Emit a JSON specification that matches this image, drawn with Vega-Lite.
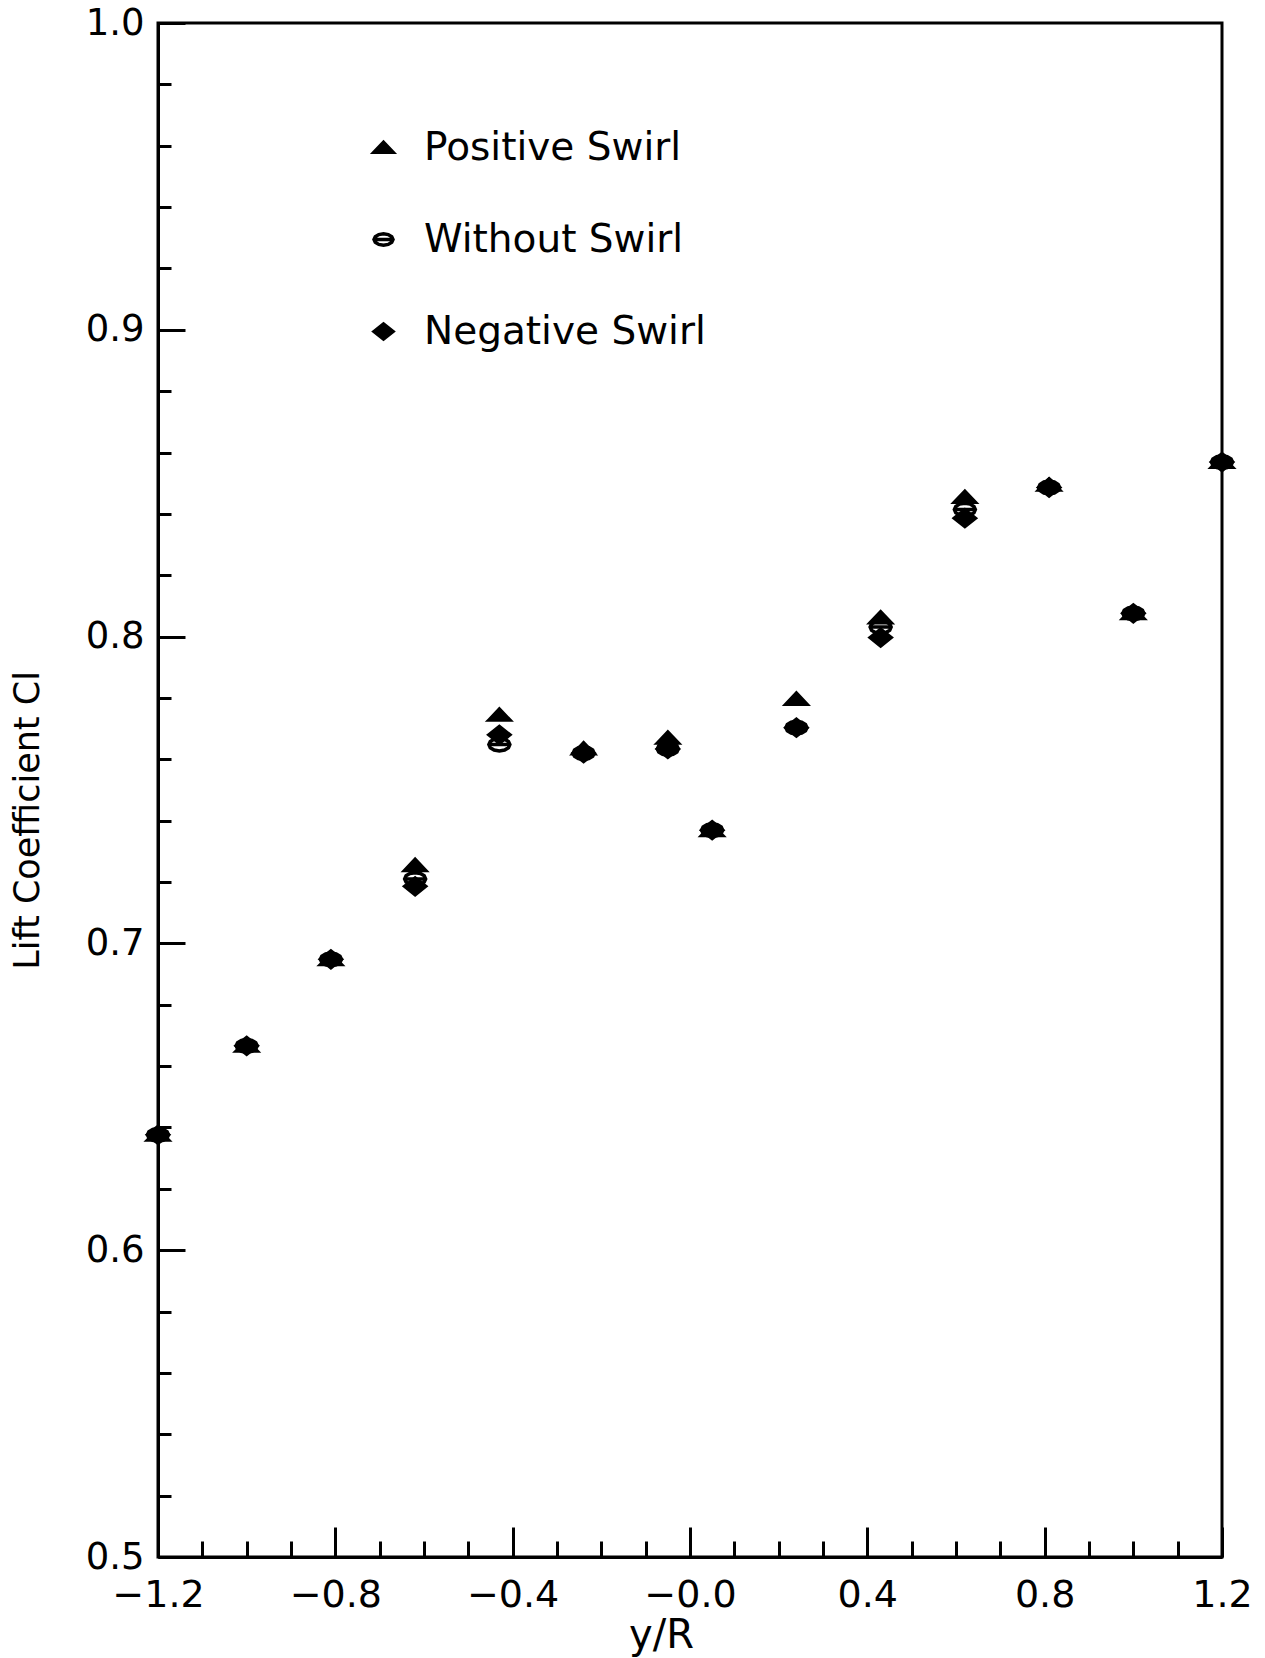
{
  "$schema": "https://vega.github.io/schema/vega-lite/v6.json",
  "width": 1064,
  "height": 1534,
  "autosize": {"type": "none"},
  "padding": {"left": 158, "top": 23, "right": 43, "bottom": 101},
  "background": "white",
  "config": {
    "view": {"stroke": "black", "strokeWidth": 3},
    "axis": {"grid": false, "domainColor": "black", "domainWidth": 3, "tickColor": "black", "tickWidth": 3, "labelColor": "black", "labelFont": "DejaVu Sans", "titleFont": "DejaVu Sans", "titleColor": "black", "titleFontWeight": "normal"},
    "legend": {"labelFont": "DejaVu Sans", "labelColor": "black", "labelLimit": 0}
  },
  "data": {
    "values": [
      {"yR": -1.2, "Cl": 0.6376, "series": "Positive Swirl"},
      {"yR": -1.0, "Cl": 0.6666, "series": "Positive Swirl"},
      {"yR": -0.81, "Cl": 0.6948, "series": "Positive Swirl"},
      {"yR": -0.62, "Cl": 0.7255, "series": "Positive Swirl"},
      {"yR": -0.43, "Cl": 0.7745, "series": "Positive Swirl"},
      {"yR": -0.24, "Cl": 0.7635, "series": "Positive Swirl"},
      {"yR": -0.05, "Cl": 0.767, "series": "Positive Swirl"},
      {"yR": 0.05, "Cl": 0.7369, "series": "Positive Swirl"},
      {"yR": 0.24, "Cl": 0.7797, "series": "Positive Swirl"},
      {"yR": 0.43, "Cl": 0.8062, "series": "Positive Swirl"},
      {"yR": 0.62, "Cl": 0.8455, "series": "Positive Swirl"},
      {"yR": 0.81, "Cl": 0.8495, "series": "Positive Swirl"},
      {"yR": 1.0, "Cl": 0.8076, "series": "Positive Swirl"},
      {"yR": 1.2, "Cl": 0.8569, "series": "Positive Swirl"},
      {"yR": -1.2, "Cl": 0.6376, "series": "Without Swirl"},
      {"yR": -1.0, "Cl": 0.6666, "series": "Without Swirl"},
      {"yR": -0.81, "Cl": 0.6948, "series": "Without Swirl"},
      {"yR": -0.62, "Cl": 0.721, "series": "Without Swirl"},
      {"yR": -0.43, "Cl": 0.7648, "series": "Without Swirl"},
      {"yR": -0.24, "Cl": 0.762, "series": "Without Swirl"},
      {"yR": -0.05, "Cl": 0.7634, "series": "Without Swirl"},
      {"yR": 0.05, "Cl": 0.7369, "series": "Without Swirl"},
      {"yR": 0.24, "Cl": 0.7703, "series": "Without Swirl"},
      {"yR": 0.43, "Cl": 0.8031, "series": "Without Swirl"},
      {"yR": 0.62, "Cl": 0.8414, "series": "Without Swirl"},
      {"yR": 0.81, "Cl": 0.8486, "series": "Without Swirl"},
      {"yR": 1.0, "Cl": 0.8076, "series": "Without Swirl"},
      {"yR": 1.2, "Cl": 0.8569, "series": "Without Swirl"},
      {"yR": -1.2, "Cl": 0.6376, "series": "Negative Swirl"},
      {"yR": -1.0, "Cl": 0.6666, "series": "Negative Swirl"},
      {"yR": -0.81, "Cl": 0.6948, "series": "Negative Swirl"},
      {"yR": -0.62, "Cl": 0.7186, "series": "Negative Swirl"},
      {"yR": -0.43, "Cl": 0.768, "series": "Negative Swirl"},
      {"yR": -0.24, "Cl": 0.762, "series": "Negative Swirl"},
      {"yR": -0.05, "Cl": 0.7634, "series": "Negative Swirl"},
      {"yR": 0.05, "Cl": 0.7369, "series": "Negative Swirl"},
      {"yR": 0.24, "Cl": 0.7703, "series": "Negative Swirl"},
      {"yR": 0.43, "Cl": 0.7997, "series": "Negative Swirl"},
      {"yR": 0.62, "Cl": 0.8386, "series": "Negative Swirl"},
      {"yR": 0.81, "Cl": 0.8486, "series": "Negative Swirl"},
      {"yR": 1.0, "Cl": 0.8076, "series": "Negative Swirl"},
      {"yR": 1.2, "Cl": 0.8569, "series": "Negative Swirl"}
    ]
  },
  "mark": {"type": "point", "stroke": "black", "strokeWidth": 3.5, "opacity": 1, "size": 441},
  "encoding": {
    "x": {
      "field": "yR", "type": "quantitative",
      "scale": {"domain": [-1.2, 1.2], "nice": false, "zero": false},
      "axis": {
        "title": "y/R", "titleFontSize": 40, "titleX": 503, "titleY": 90, "titleAnchor": "middle", "titleAlign": "center", "titleBaseline": "alphabetic",
        "values": [-1.2, -1.1, -1.0, -0.9, -0.8, -0.7, -0.6, -0.5, -0.4, -0.3, -0.2, -0.1, 0, 0.1, 0.2, 0.3, 0.4, 0.5, 0.6, 0.7, 0.8, 0.9, 1.0, 1.1, 1.2],
        "tickSize": {"condition": {"test": "abs(round(datum.value*10)) % 4 === 0", "value": -30}, "value": -16},
        "labelPadding": 49,
        "labelFontSize": 38,
        "labelBaseline": "top",
        "labelFlush": false,
        "labelOverlap": false,
        "labelExpr": "abs(round(datum.value*10)) % 4 === 0 ? (datum.value < -0.001 ? '\u2212' + format(-datum.value, '.1f') : (abs(datum.value) < 0.001 ? '\u22120.0' : format(datum.value, '.1f'))) : ''"
      }
    },
    "y": {
      "field": "Cl", "type": "quantitative",
      "scale": {"domain": [0.5, 1.0], "nice": false, "zero": false},
      "axis": {
        "title": "Lift Coefficient Cl", "titleFontSize": 35, "titleX": -131, "titleY": 797, "titleAngle": -90, "titleAlign": "center", "titleBaseline": "middle",
        "values": [0.5, 0.52, 0.54, 0.56, 0.58, 0.6, 0.62, 0.64, 0.66, 0.68, 0.7, 0.72, 0.74, 0.76, 0.78, 0.8, 0.82, 0.84, 0.86, 0.88, 0.9, 0.92, 0.94, 0.96, 0.98, 1.0],
        "tickSize": {"condition": {"test": "abs(round(datum.value*50)) % 5 === 0", "value": -27}, "value": -13},
        "labelPadding": 41,
        "labelFontSize": 37,
        "labelFlush": false,
        "labelOverlap": false,
        "labelExpr": "abs(round(datum.value*50)) % 5 === 0 ? format(datum.value, '.1f') : ''"
      }
    },
    "shape": {
      "field": "series", "type": "nominal",
      "scale": {
        "domain": ["Positive Swirl", "Without Swirl", "Negative Swirl"],
        "range": ["M-1,0.5L0,-0.55L1,0.5Z", "M1,0L0.866,0.3L0.5,0.52L0,0.6L-0.5,0.52L-0.866,0.3L-1,0L-0.866,-0.3L-0.5,-0.52L0,-0.6L0.5,-0.52L0.866,-0.3ZM-1,0L1,0", "M-1,0L0,-0.8L1,0L0,0.8Z"]
      },
      "legend": {
        "title": null, "orient": "none", "legendX": 206, "legendY": 105, "labelFontSize": 39, "labelOffset": 21, "rowPadding": 52, "symbolSize": 361, "symbolStrokeWidth": 3.5, "symbolStrokeColor": "black", "symbolOpacity": 1,
        "encode": {"symbols": {"update": {"stroke": {"value": "black"}, "strokeWidth": {"value": 3.5}}}}
      }
    },
    "fill": {
      "field": "series", "type": "nominal",
      "scale": {"domain": ["Positive Swirl", "Without Swirl", "Negative Swirl"], "range": ["black", "transparent", "black"]},
      "legend": {
        "title": null, "orient": "none", "legendX": 206, "legendY": 105, "labelFontSize": 39, "labelOffset": 21, "rowPadding": 52, "symbolSize": 361, "symbolStrokeWidth": 3.5, "symbolStrokeColor": "black", "symbolOpacity": 1,
        "encode": {"symbols": {"update": {"stroke": {"value": "black"}, "strokeWidth": {"value": 3.5}}}}
      }
    }
  }
}
